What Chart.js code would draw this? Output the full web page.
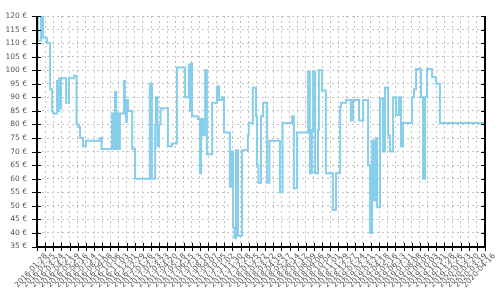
<!DOCTYPE html>
<html lang="de">
<head>
  <meta charset="UTF-8">
  <title>Preisverlauf</title>
  <style>
    html, body {
      margin: 0;
      padding: 0;
      background: #fff;
    }
    #priceChart {
      display: block;
    }
  </style>
</head>
<body>
  <canvas id="priceChart" width="500" height="300"></canvas>

  <script src="https://cdn.jsdelivr.net/npm/chart.js@4"></script>
  <script>
    // x tick labels, one every 28 days
    const tickDates = [
      '2016-01-28', '2016-02-25', '2016-03-24', '2016-04-21', '2016-05-19', '2016-06-16', '2016-07-14',
      '2016-08-11', '2016-09-08', '2016-10-06', '2016-11-03', '2016-12-01', '2016-12-29', '2017-01-26',
      '2017-02-23', '2017-03-23', '2017-04-20', '2017-05-18', '2017-06-15', '2017-07-13', '2017-08-10',
      '2017-09-07', '2017-10-05', '2017-11-02', '2017-11-30', '2017-12-28', '2018-01-25', '2018-02-22',
      '2018-03-22', '2018-04-19', '2018-05-17', '2018-06-14', '2018-07-12', '2018-08-09', '2018-09-06',
      '2018-10-04', '2018-11-01', '2018-11-29', '2018-12-27', '2019-01-24', '2019-02-21', '2019-03-21',
      '2019-04-18', '2019-05-16', '2019-06-13', '2019-07-11', '2019-08-08', '2019-09-05', '2019-10-03',
      '2019-10-31', '2019-11-28', '2019-12-26', '2020-01-23', '2020-02-20', '2020-03-19', '2020-04-16'
    ];
    const tickStep = 28;

    // days since 2016-01-28 at which the price changed
    const changeDays = [
      0, 3, 14, 21, 34, 45, 52, 55, 69, 72,
      76, 79, 83, 100, 110, 127, 136, 144, 148, 158,
      168, 217, 222, 258, 261, 268, 272, 278, 282, 285,
      299, 302, 306, 309, 313, 327, 337, 388, 395, 406,
      409, 414, 419, 425, 450, 464, 481, 509, 522, 526,
      529, 533, 553, 560, 564, 571, 578, 584, 602, 619,
      626, 636, 643, 663, 670, 674, 679, 684, 691, 705,
      725, 728, 742, 753, 756, 761, 770, 777, 791, 799,
      835, 844, 877, 883, 894, 932, 938, 945, 949, 956,
      966, 969, 980, 993, 1017, 1028, 1042, 1045, 1062, 1079,
      1086, 1107, 1121, 1138, 1145, 1152, 1158, 1165, 1169, 1179,
      1189, 1196, 1207, 1213, 1224, 1234, 1244, 1251, 1258, 1289,
      1296, 1303, 1320, 1327, 1334, 1341, 1358, 1372, 1385, 1540
    ];

    // price in euro from that day on
    const prices = [
      120, 111, 120, 112, 110, 93, 85, 84, 96, 85,
      97, 86, 97, 88, 97, 98, 80, 79, 75, 72,
      74, 75, 71, 84, 71, 92, 71, 84, 71, 84,
      96, 89, 81, 89, 85, 71, 60, 95, 60, 80,
      90, 72, 80, 86, 72, 73, 101, 90, 102, 85,
      102.5, 83, 82, 62, 82, 76, 100, 69, 88, 94,
      89, 90, 77, 57, 70, 42, 38, 70.5, 39, 70.5,
      76, 80.5, 93.5, 83, 65, 58.5, 83, 88, 58.5, 74,
      55, 80.5, 83, 56.5, 77, 99.5, 62, 78, 99.5, 62,
      78, 100, 92.5, 62, 48.5, 62, 86.5, 88, 89, 81.5,
      89, 81.5, 89, 65, 40, 74, 52, 75, 49.5, 89.5,
      70, 93.5, 76, 70, 90, 83.5, 90, 72, 80.5, 90,
      93, 100.5, 90, 60, 90, 100.5, 97.5, 95, 80.5, 80.5
    ];

    const priceMin = 35;
    const priceMax = 120;
    const priceStep = 5;

    const labelFont = { family: 'DejaVu Sans', size: 7.5 };

    // black axis lines, ticks crossing the axes
    const axisLines = {
      id: 'axisLines',
      afterDraw(chart) {
        const { ctx, chartArea: a, scales: { x, y } } = chart;
        const L = Math.round(a.left);
        const R = Math.round(a.right);
        const T = Math.round(a.top);
        const B = Math.round(a.bottom);
        ctx.save();
        ctx.strokeStyle = '#000';

        ctx.lineWidth = 1;
        ctx.beginPath();
        y.ticks.forEach(t => {
          const py = Math.round(y.getPixelForValue(t.value)) + 0.5;
          ctx.moveTo(L - 5, py);
          ctx.lineTo(L + 4, py);
          ctx.moveTo(R - 4, py);
          ctx.lineTo(R, py);
        });
        x.ticks.forEach(t => {
          const px = Math.round(x.getPixelForValue(t.value)) + 0.5;
          ctx.moveTo(px, B - 4);
          ctx.lineTo(px, B + 4);
        });
        ctx.stroke();

        ctx.lineWidth = 2;
        ctx.beginPath();
        ctx.moveTo(L, T);
        ctx.lineTo(L, B);
        ctx.moveTo(L - 1, B);
        ctx.lineTo(R + 1, B);
        ctx.moveTo(R, T);
        ctx.lineTo(R, B);
        ctx.stroke();
        ctx.restore();
      }
    };

    const ctx = document.getElementById('priceChart').getContext('2d');
    new Chart(ctx, {
      type: 'line',
      data: {
        datasets: [{
          data: changeDays.map((d, i) => ({ x: d, y: prices[i] })),
          borderColor: '#87ceeb',
          borderWidth: 2,
          pointRadius: 0,
          fill: false,
          stepped: true
        }]
      },
      options: {
        responsive: false,
        animation: false,
        devicePixelRatio: 1,
        layout: { padding: { top: 16, right: 15, left: 0, bottom: 0 } },
        plugins: {
          legend: { display: false },
          tooltip: { enabled: false }
        },
        scales: {
          x: {
            type: 'linear',
            min: 0,
            max: (tickDates.length - 1) * tickStep,
            grid: { color: '#c2c2c2', drawTicks: false },
            border: { display: false, dash: [2, 3] },
            ticks: {
              stepSize: tickStep,
              autoSkip: false,
              minRotation: 47,
              maxRotation: 47,
              padding: 5,
              labelOffset: 9,
              color: '#555',
              font: labelFont,
              callback: v => tickDates[Math.round(v / tickStep)]
            },
            afterFit: s => { s.height = 53.5; }
          },
          y: {
            min: priceMin,
            max: priceMax,
            grid: { color: '#c2c2c2', drawTicks: false },
            border: { display: false, dash: [2, 3] },
            ticks: {
              stepSize: priceStep,
              padding: 10,
              color: '#555',
              font: labelFont,
              callback: v => v + ' €'
            },
            afterFit: s => { s.width = 37; }
          }
        }
      },
      plugins: [axisLines]
    });
  </script>
</body>
</html>
